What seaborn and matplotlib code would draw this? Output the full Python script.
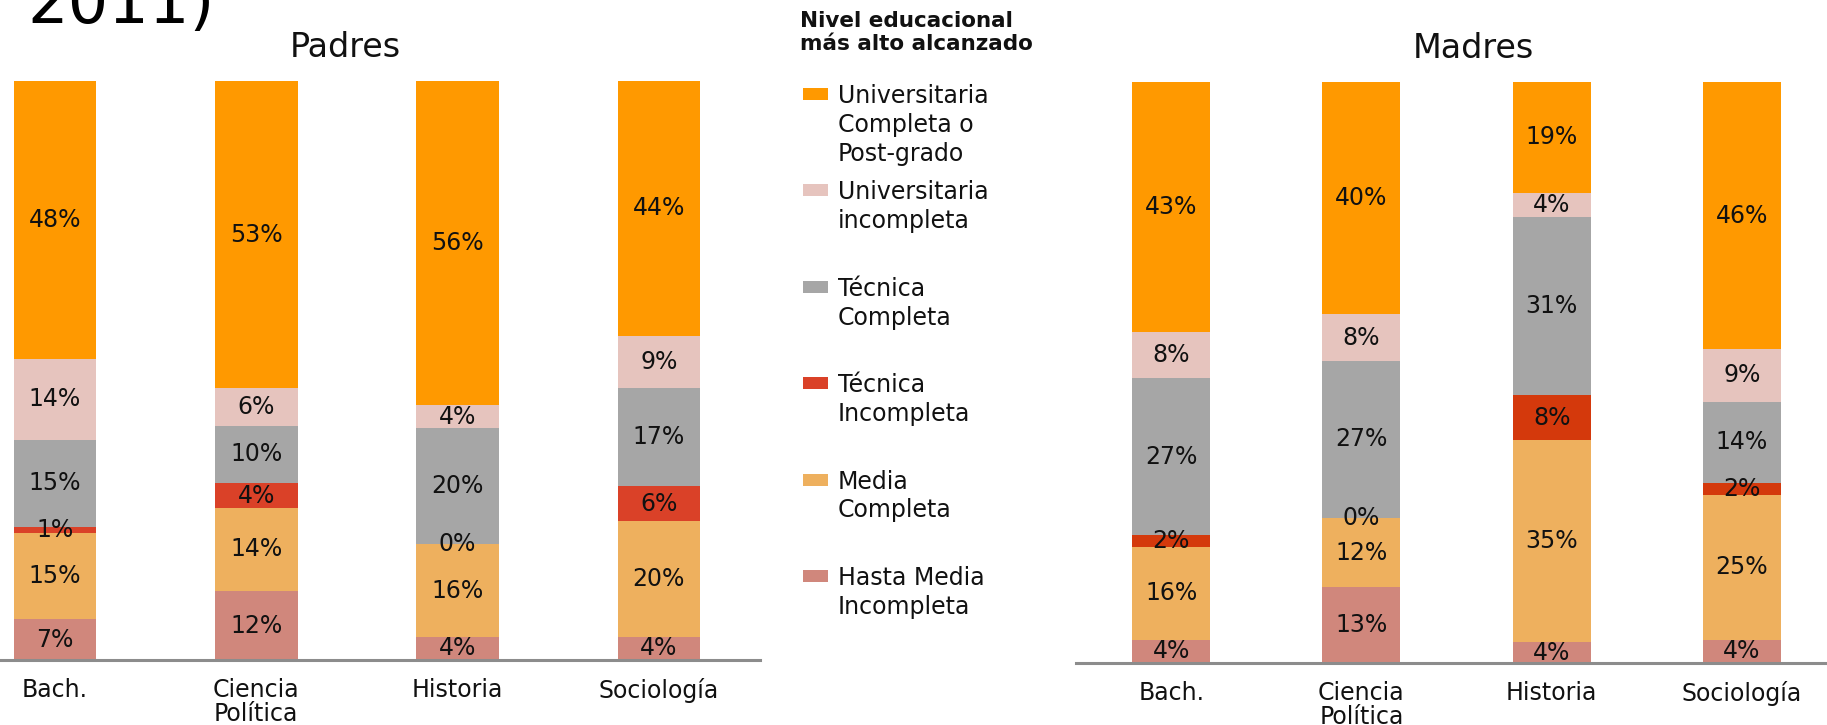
import numpy as np
import pandas as pd
import matplotlib
matplotlib.use("Agg")
import matplotlib.pyplot as plt
import seaborn as sns
from matplotlib.patches import Rectangle

sns.set_style("white")
plt.rcParams["font.family"] = ["DejaVu Sans"]

# ---------------- data ----------------
carreras = ["Bach.", "Ciencia\nPolítica", "Historia", "Sociología"]
niveles = ["Hasta Media\nIncompleta", "Media\nCompleta", "Técnica\nIncompleta",
           "Técnica\nCompleta", "Universitaria\nincompleta",
           "Universitaria\nCompleta o\nPost-grado"]

# Padres: one list per nivel, values per carrera (percent)
padres_hasta = [7, 11.9, 4, 4]
padres_media = [15, 14.4, 16, 20]
padres_tec_inc = [1, 4.2, 0, 6]
padres_tec_comp = [15, 10.0, 20, 17]
padres_univ_inc = [14, 6.4, 4, 9]
padres_univ_comp = [48, 53.1, 56, 44]

# Madres
madres_hasta = [4, 13, 3.6, 4]
madres_media = [16, 12, 34.7, 25]
madres_tec_inc = [2, 0, 7.8, 2]
madres_tec_comp = [27, 27, 30.7, 14]
madres_univ_inc = [8, 8, 4.1, 9]
madres_univ_comp = [43, 40, 19.1, 46]

colores_padres = ["#D0877C", "#EEB05E", "#DA4128", "#A6A6A6", "#E6C4BE", "#FF9900"]
colores_madres = ["#D0877C", "#EEB05E", "#D4390C", "#A6A6A6", "#E6C4BE", "#FF9900"]

padres = [padres_hasta, padres_media, padres_tec_inc, padres_tec_comp,
          padres_univ_inc, padres_univ_comp]
madres = [madres_hasta, madres_media, madres_tec_inc, madres_tec_comp,
          madres_univ_inc, madres_univ_comp]

W, H = 1827, 725
TXT = "#111111"
fig = plt.figure(figsize=(W / 100, H / 100), dpi=100)


def px_axes(x0, x1, ytop, ybot):
    return fig.add_axes([x0 / W, 1 - ybot / H, (x1 - x0) / W, (ybot - ytop) / H])


def draw_panel(ax, series, colores, xlim, title, title_x):
    bottom = np.zeros(len(carreras))
    for vals, col in zip(series, colores):
        df = pd.DataFrame({"carrera": carreras, "valor": vals})
        sns.barplot(data=df, x="carrera", y="valor", order=carreras, color=col,
                    saturation=1, width=0.41, errorbar=None, linewidth=0,
                    bottom=bottom.copy(), ax=ax)
        ax.bar_label(ax.containers[-1], labels=[f"{v:.0f}%" for v in vals],
                     label_type="center", fontsize=17, color=TXT)
        bottom = bottom + np.array(vals, dtype=float)
    ax.set_xlabel("")
    ax.set_ylabel("")
    ax.set_yticks([])
    for s in ["left", "top", "right"]:
        ax.spines[s].set_visible(False)
    ax.spines["bottom"].set_color("#8C8C8C")
    ax.spines["bottom"].set_linewidth(2.2)
    ax.set_xticks(range(len(carreras)))
    ax.set_xticklabels(carreras)
    ax.set_xticks([i + 0.5 for i in range(-1, len(carreras))], minor=True)
    ax.tick_params(axis="x", which="major", length=0, pad=13, labelsize=17,
                   labelcolor=TXT)
    ax.tick_params(axis="x", which="minor", length=5, width=1.5, color="#8C8C8C",
                   direction="out")
    for lab in ax.get_xticklabels():
        lab.set_linespacing(1.0)
    ax.set_title(title, x=title_x, fontsize=24, color=TXT, pad=17)
    ax.set_facecolor("none")
    ax.set_xlim(*xlim)
    ax.set_ylim(0, 100)


ax1 = px_axes(0, 760, 81, 660)
draw_panel(ax1, padres, colores_padres, (-0.273, 3.502), "Padres", 0.455)

ax2 = px_axes(1076, 1827, 82, 663)
draw_panel(ax2, madres, colores_madres, (-0.5, 3.447), "Madres", 0.529)

# cut-off title fragment at top left
fig.text(27 / W, 1 - 23 / H, "2011)", fontsize=46, color="black", va="baseline")

# legend (manual, markers aligned with first line of each label)
fs_t = 15.5
fig.text(800 / W, 1 - (27 - 0.76 * fs_t / 0.72) / H,
         "Nivel educacional\nmás alto alcanzado",
         fontsize=fs_t, fontweight="bold", color=TXT, va="top", linespacing=1.2)
fs_l = 17
orden_leyenda = list(range(len(niveles)))[::-1]
for i, k in enumerate(orden_leyenda):
    base = 102 + 96.4 * i
    fig.add_artist(Rectangle((803 / W, 1 - (base - 2) / H), 25 / W, 12 / H,
                             transform=fig.transFigure, facecolor=colores_padres[k],
                             edgecolor="none"))
    fig.text(838 / W, 1 - (base - 0.76 * fs_l / 0.72) / H, niveles[k],
             fontsize=fs_l, color=TXT, va="top", linespacing=1.25)

fig.savefig("out.png", dpi=100)
